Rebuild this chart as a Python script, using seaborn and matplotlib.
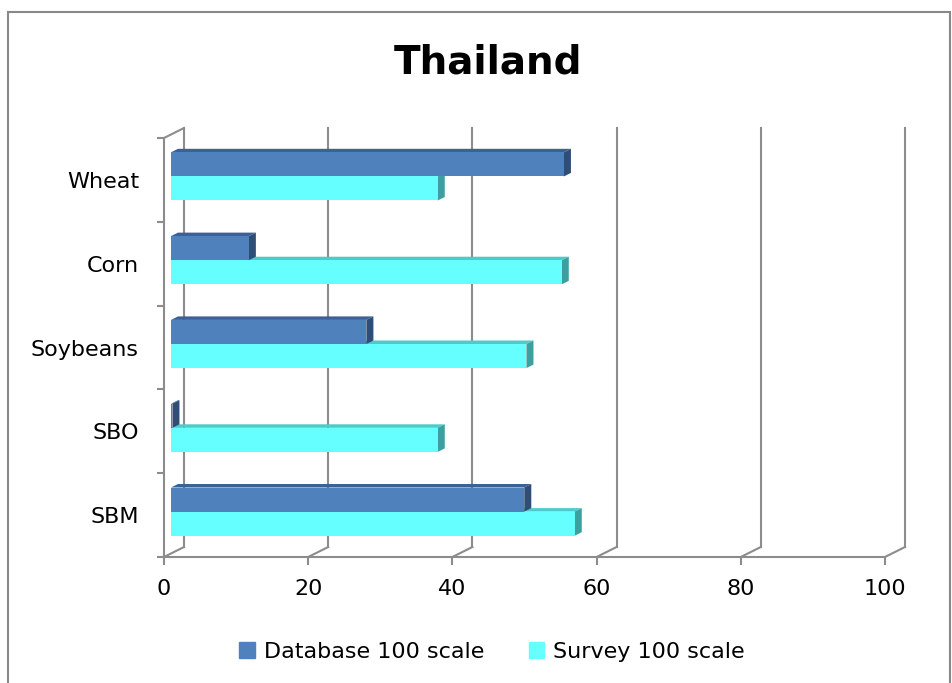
import pandas as pd
import matplotlib.pyplot as plt
import matplotlib.patches as mpatches
import seaborn as sns

# Data
categories = ["Wheat", "Corn", "Soybeans", "SBO", "SBM"]
database_100 = [54.5, 10.8, 27.1, 0.2, 49.0]
survey_100 = [37.0, 54.2, 49.3, 37.0, 56.0]
series_names = ["Database 100 scale", "Survey 100 scale"]
x_ticks = [0, 20, 40, 60, 80, 100]

df = pd.DataFrame({
    "Category": categories * 2,
    "Series": [series_names[0]] * 5 + [series_names[1]] * 5,
    "Value": database_100 + survey_100,
})

db_front, db_top, db_side = "#4F81BD", "#3B6196", "#2E4E78"
sv_front, sv_top, sv_side = "#66FFFF", "#4FCACA", "#3DA0A0"
grid_col = "#8C8C8C"

W, H = 953, 683
fig = plt.figure(figsize=(W / 100, H / 100), dpi=100)

# plot area (front plane) in pixels
x0_px, x1_px, ytop_px, ybot_px = 164, 885, 138, 557
ax = fig.add_axes([x0_px / W, (H - ybot_px) / H, (x1_px - x0_px) / W, (ybot_px - ytop_px) / H])

sns.barplot(data=df, y="Category", x="Value", hue="Series", hue_order=series_names,
            order=categories, orient="h", width=0.575, palette=[db_front, sv_front],
            saturation=1, legend=False, ax=ax, linewidth=0)

ax.set_xlim(0, 100)
ax.set_ylim(4.5, -0.5)

px_x = (x1_px - x0_px) / 100
px_y = (ybot_px - ytop_px) / 5

# back wall offset (3D depth) and bar offsets
wdx, wdy = 20 / px_x, 10 / px_y
bdx, bdy = 7 / px_x, 3.5 / px_y

for p in list(ax.patches):
    fc = p.get_facecolor()
    is_db = fc[2] < 0.9 and fc[0] > 0.2
    top_c, side_c = (db_top, db_side) if is_db else (sv_top, sv_side)
    z = 3 if is_db else 2
    x, y, w, h = p.get_x(), p.get_y(), p.get_width(), p.get_height()
    x, y = x + bdx, y - bdy
    p.set_x(x)
    p.set_y(y)
    p.set_zorder(z + 0.5)
    # y is the top edge (axis inverted), y + h the bottom edge
    top = mpatches.Polygon([(x, y), (x + bdx, y - bdy), (x + w + bdx, y - bdy), (x + w, y)],
                           closed=True, facecolor=top_c, edgecolor="none", zorder=z)
    side = mpatches.Polygon([(x + w, y), (x + w + bdx, y - bdy), (x + w + bdx, y + h - bdy), (x + w, y + h)],
                            closed=True, facecolor=side_c, edgecolor="none", zorder=z + 0.2)
    ax.add_patch(top)
    ax.add_patch(side)

# back-wall gridlines and floor diagonals
lw = 1.5
for xv in x_ticks:
    ax.plot([xv + wdx, xv + wdx], [4.5 - wdy, -0.5 - wdy], color=grid_col, lw=lw, clip_on=False, zorder=1)
    ax.plot([xv, xv + wdx], [4.5, 4.5 - wdy], color=grid_col, lw=lw, clip_on=False, zorder=1)
ax.plot([0, wdx], [-0.5, -0.5 - wdy], color=grid_col, lw=lw, clip_on=False, zorder=1)

sns.despine(ax=ax, top=True, right=True)
for s in ["left", "bottom"]:
    ax.spines[s].set_color(grid_col)
    ax.spines[s].set_linewidth(lw)
    ax.spines[s].set_zorder(1)

ax.set_xticks(x_ticks)
ax.set_xticklabels([str(v) for v in x_ticks])
ax.set_yticks(range(5))
ax.set_yticklabels(categories)
ax.set_yticks([i - 0.5 for i in range(6)], minor=True)
ax.tick_params(axis="y", which="major", length=0, pad=18, labelsize=16)
ax.tick_params(axis="y", which="minor", length=5, width=lw, color=grid_col)
ax.tick_params(axis="x", length=6, width=lw, color=grid_col, pad=10, labelsize=16)
ax.set_xlabel("")
ax.set_ylabel("")
ax.set_facecolor("none")

# outer chart frame
frame = mpatches.Rectangle((8 / W, -0.1), (950 - 8) / W, 1.1 - 12 / H, transform=fig.transFigure,
                           fill=False, edgecolor="#888888", linewidth=1.5)
fig.patches.append(frame)

fig.text(488 / W, 1 - 62 / H, "Thailand", ha="center", va="center", fontsize=28, fontweight="bold")

handles = [mpatches.Patch(color=db_front), mpatches.Patch(color=sv_front)]
fig.legend(handles, series_names, loc="center", bbox_to_anchor=(492 / W, 1 - 652 / H), ncol=2,
           frameon=False, fontsize=16, handlelength=0.7, handleheight=0.7, handletextpad=0.4,
           columnspacing=2.0)

plt.savefig("out.png", dpi=100)
